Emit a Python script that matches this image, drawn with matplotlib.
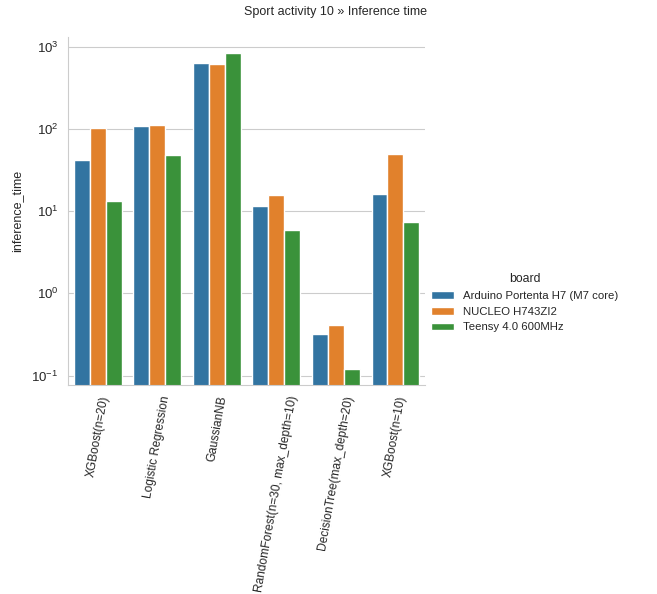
import matplotlib
matplotlib.use("Agg")
import matplotlib.pyplot as plt
import seaborn as sns
import numpy as np

# data
models = ["XGBoost(n=20)", "Logistic Regression", "GaussianNB",
          "RandomForest(n=30, max_depth=10)", "DecisionTree(max_depth=20)", "XGBoost(n=10)"]
boards = ["Arduino Portenta H7 (M7 core)", "NUCLEO H743ZI2", "Teensy 4.0 600MHz"]
portenta = [41.5, 108, 630, 11.5, 0.317, 16.2]
nucleo = [103, 113, 620, 15.8, 0.415, 49]
teensy = [13.2, 47.7, 840, 5.97, 0.12, 7.3]
colors = ["#3274a1", "#e1812c", "#3a923a"]

sns.set_style("whitegrid")
plt.rcParams['font.family'] = ['Liberation Sans', 'DejaVu Sans']
plt.rcParams['mathtext.default'] = 'regular'

fig = plt.figure(figsize=(6.57, 5.94), dpi=100)
ax = fig.add_axes([0.1035, 0.352, 0.5435, 0.586])

x = np.arange(len(models))
w = 0.8 / 3
for i, vals in enumerate([portenta, nucleo, teensy]):
    ax.bar(x - 0.4 + w * (i + 0.5), vals, width=w, color=colors[i],
           edgecolor="white", linewidth=1, label=boards[i])

ax.set_yscale("log")
ax.set_ylim(0.077, 1320)
ax.set_xlim(-0.5, len(models) - 0.5)
ax.set_xticks(x)
ax.set_xticklabels(models, rotation=80, fontsize=8.6)
ax.tick_params(axis='y', labelsize=9.5)
ax.grid(axis='x', visible=False)
ax.set_ylabel("inference_time", fontsize=9, labelpad=6)
sns.despine(ax=ax)

fig.legend(loc="center left", bbox_to_anchor=(0.641, 0.49), frameon=False,
           title="board", fontsize=8.2, title_fontsize=8.8)
fig.suptitle("Sport activity 10 » Inference time", x=0.51, y=0.99, fontsize=9)

fig.savefig("out.png", dpi=100)
